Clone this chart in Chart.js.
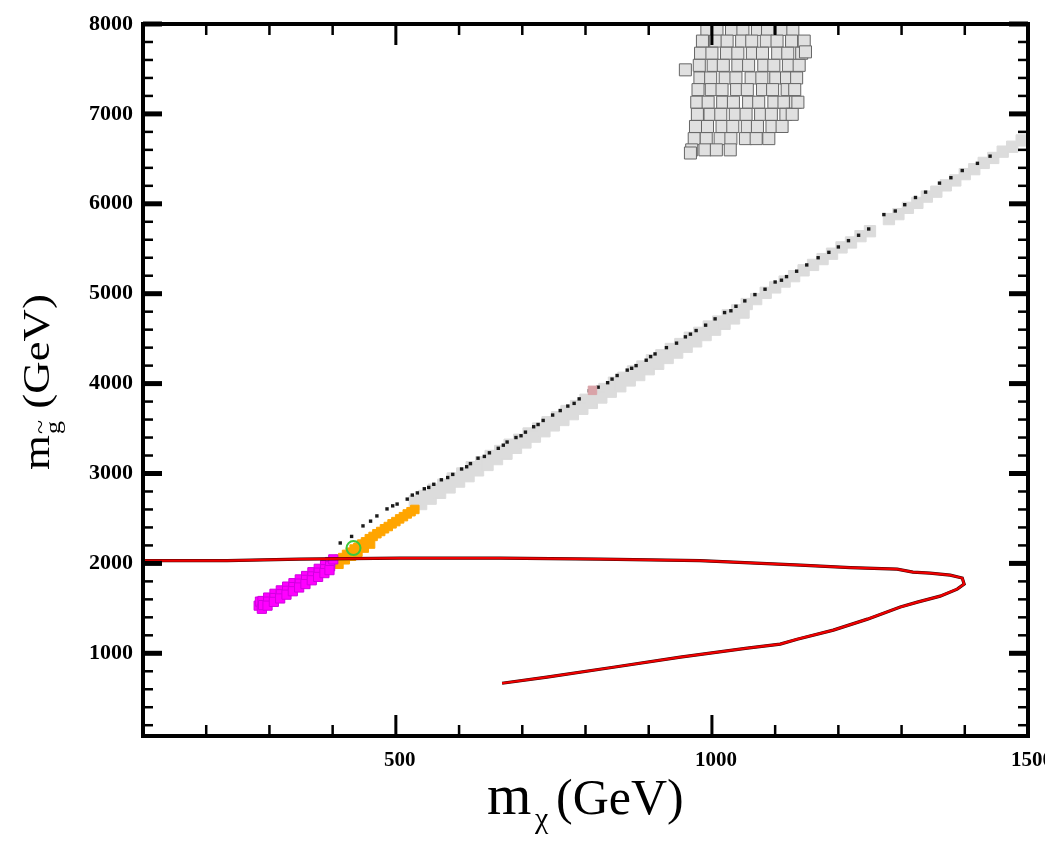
<!DOCTYPE html>
<html>
<head>
<meta charset="utf-8">
<script src="https://cdn.jsdelivr.net/npm/chart.js@4.4.1/dist/chart.umd.min.js"></script>
<style>
  html, body { margin: 0; padding: 0; background: #fff; }
</style>
</head>
<body>
<canvas id="scan" width="1045" height="848"></canvas>
<script>

// axis ranges and tick values
const xRange = [100, 1500];
const yRange = [80, 8000];
const xTickLabels = [500, 1000, 1500];
const yTickLabels = [1000, 2000, 3000, 4000, 5000, 6000, 7000, 8000];

// exclusion contour (m_chi, m_gluino)
const contour = [
  [100, 2030], [233, 2030], [348, 2047], [507, 2058], [665, 2058], [823, 2047],
  [981, 2031], [1140, 1981], [1219, 1953], [1293, 1937], [1318, 1903], [1345, 1892],
  [1377, 1870], [1396, 1837], [1399, 1770], [1388, 1714], [1361, 1636], [1325, 1569],
  [1298, 1514], [1246, 1380], [1192, 1258], [1135, 1157], [1108, 1102], [1056, 1057],
  [950, 957], [844, 845], [739, 734], [668, 667]
];

// scan points, magenta region
const magentaPts = [
  [283, 1530], [285, 1575], [288, 1495],
  [289, 1582], [290, 1536], [298, 1620], [298, 1575], [297, 1530],
  [308, 1662], [308, 1615], [307, 1572], [318, 1700], [318, 1657], [317, 1610],
  [328, 1742], [328, 1695], [327, 1652], [338, 1780], [338, 1737], [337, 1690],
  [348, 1822], [348, 1775], [347, 1732], [358, 1860], [358, 1817], [357, 1770],
  [368, 1902], [368, 1855], [367, 1812], [378, 1940], [378, 1897], [377, 1850],
  [388, 1982], [388, 1935], [387, 1892], [396, 2015], [396, 1968], [395, 1925],
  [401, 2045]
];

// scan points, orange region
const orangePts = [
  [404, 2010], [410, 2045], [416, 2065], [422, 2100], [428, 2125], [434, 2160],
  [440, 2180], [446, 2215], [452, 2240], [458, 2275], [464, 2300], [470, 2330],
  [476, 2355], [482, 2385], [488, 2410], [494, 2440], [500, 2465], [506, 2495],
  [512, 2520], [518, 2550], [524, 2575], [530, 2600],
  [410, 1990], [420, 2040], [430, 2080], [440, 2125], [450, 2170], [460, 2215]
];

// gray band along the diagonal
const bandPts = [
  [530, 2690], [545, 2750], [560, 2820], [575, 2875], [590, 2945], [605, 3000],
  [620, 3070], [635, 3125], [650, 3195], [665, 3250], [680, 3320], [695, 3375],
  [710, 3445], [725, 3500], [740, 3570], [755, 3625], [770, 3695], [785, 3750],
  [800, 3820], [815, 3880], [830, 3940], [845, 4010], [860, 4065], [875, 4135],
  [890, 4190], [905, 4260], [920, 4315], [935, 4385], [950, 4440], [965, 4510],
  [980, 4565], [995, 4635], [1010, 4690], [1025, 4760], [1040, 4815], [1055, 4885],
  [1070, 4940], [1085, 5010], [1100, 5070], [1115, 5135], [1130, 5195], [1145, 5260],
  [1160, 5320], [1175, 5385], [1190, 5445], [1205, 5515], [1220, 5570], [1235, 5640],
  [1250, 5695], [1280, 5830], [1295, 5885], [1310, 5955], [1325, 6010], [1340, 6080],
  [1355, 6135], [1370, 6205], [1385, 6260], [1400, 6330], [1415, 6385], [1430, 6455],
  [1445, 6510], [1460, 6580], [1475, 6635], [1490, 6705],
  // lower side of the band, where it is widest
  [540, 2660], [555, 2720], [570, 2785], [585, 2845], [600, 2910], [615, 2970],
  [630, 3035], [645, 3095], [660, 3160], [675, 3220], [690, 3285], [705, 3345],
  [720, 3410], [735, 3470], [750, 3535], [765, 3595], [780, 3660], [795, 3720],
  [810, 3785], [825, 3845], [840, 3910], [855, 3970], [870, 4035], [885, 4095],
  [900, 4160], [915, 4220], [930, 4285], [945, 4345], [960, 4410], [975, 4470],
  [990, 4540], [1005, 4600], [1020, 4665], [1035, 4725], [1050, 4790]
];

// dark points sitting on the upper edge of the band
const edgePts = [
  [412, 2227], [430, 2300], [448, 2417], [460, 2470], [470, 2528], [486, 2606],
  [495, 2640], [502, 2660], [518, 2715], [526, 2760], [534, 2784], [545, 2830],
  [552, 2845], [560, 2880], [572, 2930], [582, 2955], [590, 2990], [604, 3050],
  [612, 3075], [618, 3110], [630, 3170], [640, 3190], [648, 3230], [662, 3280],
  [670, 3315], [676, 3350], [690, 3400], [698, 3420], [705, 3460], [718, 3520],
  [725, 3545], [733, 3590], [748, 3650], [760, 3700], [772, 3750], [782, 3780],
  [790, 3830], [806, 3920], [813, 3935], [820, 3960], [835, 4010], [842, 4050],
  [850, 4090], [866, 4150], [873, 4170], [880, 4200], [896, 4260], [903, 4300],
  [910, 4330], [928, 4400], [944, 4450], [958, 4520], [966, 4550], [975, 4590],
  [990, 4650], [1005, 4720], [1020, 4790], [1030, 4810], [1038, 4860], [1052, 4920],
  [1068, 4990], [1084, 5050], [1100, 5130], [1110, 5150], [1118, 5190], [1134, 5250],
  [1150, 5320], [1168, 5400], [1185, 5460], [1200, 5520], [1216, 5590], [1232, 5650],
  [1248, 5720], [1272, 5880], [1290, 5920], [1305, 5990], [1322, 6070], [1338, 6130],
  [1360, 6230], [1378, 6290], [1396, 6370], [1420, 6450], [1440, 6530]
];

// heavy cluster at the top of the plot, by row
const clusterRowY = [7940, 7810, 7675, 7540, 7400, 7270, 7130, 6995, 6860, 6725, 6600];
const clusterRowX = [
  [992, 1008, 1031, 1049, 1072, 1088, 1111, 1128],
  [985, 1006, 1024, 1047, 1063, 1086, 1103, 1126, 1146],
  [982, 1000, 1023, 1041, 1064, 1080, 1104, 1120, 1142],
  [980, 1002, 1018, 1041, 1058, 1082, 1098, 1121, 1138],
  [981, 998, 1021, 1038, 1062, 1079, 1101, 1118, 1134],
  [978, 999, 1016, 1039, 1056, 1080, 1096, 1119, 1131],
  [976, 994, 1017, 1034, 1058, 1074, 1098, 1114, 1132],
  [977, 997, 1014, 1037, 1054, 1077, 1094, 1117, 1127],
  [974, 993, 1016, 1033, 1056, 1072, 1095, 1111],
  [972, 991, 1013, 1030, 1053, 1070, 1090],
  [968, 989, 1007, 1029]
];
const clusterStrays = [[958, 7490], [1148, 7690], [1136, 7130], [966, 6565]];

// single marked points
const greenPts = [[433, 2170]];
const pinkPts = [[811, 3925]];

const toXY = pts => pts.map(p => ({ x: p[0], y: p[1] }));

const clusterPts = [];
clusterRowY.forEach((y, i) => clusterRowX[i].forEach(x => clusterPts.push({ x, y })));
toXY(clusterStrays).forEach(p => clusterPts.push(p));

const serif = '"Liberation Serif", "Times New Roman", serif';

// frame with inward ticks on all four sides, tick labels and axis titles
const axesFrame = {
  id: 'axesFrame',
  afterDraw(chart) {
    const { ctx, chartArea: a } = chart;
    const xs = chart.scales.x, ys = chart.scales.y;
    ctx.save();
    ctx.fillStyle = '#000';

    for (let v = 200; v < 1500; v += 100) {
      if (xTickLabels.includes(v)) continue;
      const px = xs.getPixelForValue(v);
      ctx.fillRect(px - 1.25, a.bottom - 11, 2.5, 11);
      ctx.fillRect(px - 1.25, a.top, 2.5, 11);
    }
    xTickLabels.forEach(v => {
      const px = xs.getPixelForValue(v);
      ctx.fillRect(px - 1.5, a.bottom - 21, 3, 21);
      ctx.fillRect(px - 1.5, a.top, 3, 21);
    });
    for (let v = 200; v < 8000; v += 200) {
      if (v % 1000 === 0) continue;
      const py = ys.getPixelForValue(v);
      ctx.fillRect(a.left, py - 1.25, 10, 2.5);
      ctx.fillRect(a.right - 10, py - 1.25, 10, 2.5);
    }
    yTickLabels.forEach(v => {
      const py = ys.getPixelForValue(v);
      ctx.fillRect(a.left, py - 2.5, 19, 5);
      ctx.fillRect(a.right - 19, py - 2.5, 19, 5);
    });

    ctx.strokeStyle = '#000';
    ctx.lineWidth = 4;
    ctx.strokeRect(a.left, a.top, a.right - a.left, a.bottom - a.top);

    // tick labels
    ctx.font = 'bold 22px ' + serif;
    ctx.textAlign = 'right';
    ctx.textBaseline = 'middle';
    yTickLabels.forEach(v => ctx.fillText(String(v), a.left - 10, ys.getPixelForValue(v)));
    ctx.font = 'bold 21px ' + serif;
    ctx.textAlign = 'center';
    xTickLabels.forEach(v => ctx.fillText(String(v), xs.getPixelForValue(v) + 4, a.bottom + 25));

    // x title: m_chi (GeV)
    ctx.textAlign = 'left';
    ctx.textBaseline = 'alphabetic';
    ctx.font = '57px ' + serif;
    ctx.fillText('m', 487, 814);
    ctx.font = '30px ' + serif;
    ctx.fillText('\u03c7', 535, 828);
    ctx.font = '50px ' + serif;
    ctx.fillText('(GeV)', 556, 814);

    // y title: m_gluino (GeV), rotated
    ctx.translate(49, 470);
    ctx.rotate(-Math.PI / 2);
    ctx.scale(1.18, 1);
    ctx.font = '38px ' + serif;
    ctx.fillText('m', 0, 0);
    const ty = ctx.measureText('m').width + 1;
    ctx.font = '22px ' + serif;
    ctx.fillText('g', ty, 11);
    ctx.fillText('~', ty, -2);
    ctx.font = '38px ' + serif;
    ctx.fillText('(GeV)', 52, 0);
    ctx.restore();
  }
};

new Chart(document.getElementById('scan'), {
  type: 'scatter',
  data: {
    datasets: [
      {
        label: 'green',
        data: toXY(greenPts),
        pointStyle: 'circle',
        pointRadius: 7,
        backgroundColor: 'rgba(0,0,0,0)',
        borderColor: '#3cc83c',
        borderWidth: 2,
        order: 0
      },
      {
        label: 'contour',
        type: 'line',
        data: toXY(contour),
        borderColor: '#f00000',
        borderWidth: 2.2,
        pointRadius: 0,
        tension: 0,
        fill: false,
        order: 1
      },
      {
        label: 'contour edge',
        type: 'line',
        data: toXY(contour),
        borderColor: '#3a0000',
        borderWidth: 3.2,
        pointRadius: 0,
        tension: 0,
        fill: false,
        order: 2
      },
      {
        label: 'magenta',
        data: toXY(magentaPts),
        pointStyle: 'rect',
        pointRadius: 6.5,
        backgroundColor: '#ff00ff',
        borderColor: '#d000e0',
        borderWidth: 1,
        order: 3
      },
      {
        label: 'orange',
        data: toXY(orangePts),
        pointStyle: 'rect',
        pointRadius: 6,
        backgroundColor: '#ffa500',
        borderColor: '#ffa500',
        borderWidth: 1,
        order: 4
      },
      {
        label: 'pink',
        data: toXY(pinkPts),
        pointStyle: 'rect',
        pointRadius: 6,
        backgroundColor: '#d9a3a8',
        borderColor: '#d9a3a8',
        borderWidth: 1,
        order: 5
      },
      {
        label: 'edge',
        data: toXY(edgePts),
        pointStyle: 'rect',
        pointRadius: 2.4,
        backgroundColor: '#1a1a1a',
        borderColor: '#1a1a1a',
        borderWidth: 0,
        order: 6
      },
      {
        label: 'band',
        data: toXY(bandPts),
        pointStyle: 'rect',
        pointRadius: 8,
        backgroundColor: '#dcdcdc',
        borderColor: '#dcdcdc',
        borderWidth: 1,
        order: 7
      },
      {
        label: 'cluster',
        data: clusterPts,
        pointStyle: 'rect',
        pointRadius: 8.5,
        backgroundColor: '#e0e0e0',
        borderColor: '#666',
        borderWidth: 1,
        order: 8
      }
    ]
  },
  options: {
    responsive: false,
    animation: false,
    layout: { padding: { left: 143, right: 17, top: 24, bottom: 112 } },
    plugins: {
      legend: { display: false },
      tooltip: { enabled: false }
    },
    scales: {
      x: { type: 'linear', min: xRange[0], max: xRange[1], display: false },
      y: { type: 'linear', min: yRange[0], max: yRange[1], display: false }
    }
  },
  plugins: [axesFrame]
});
</script>
</body>
</html>
